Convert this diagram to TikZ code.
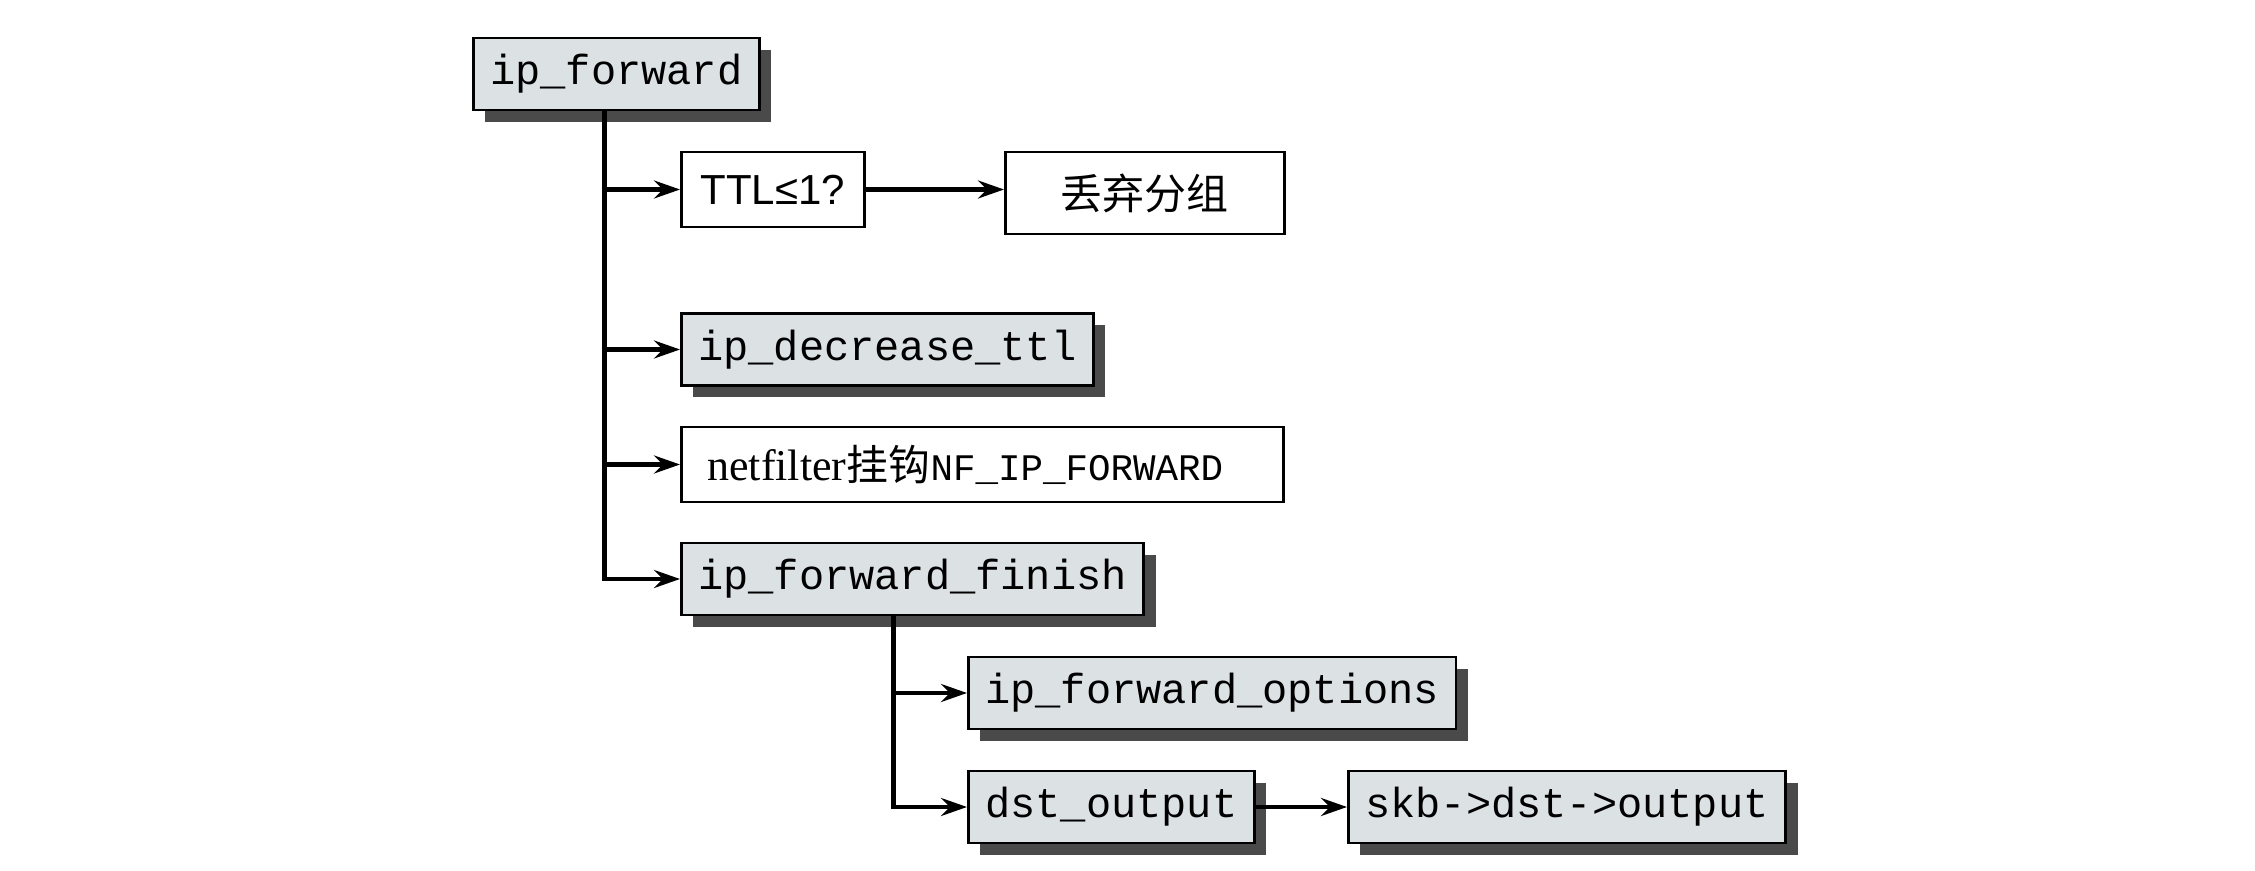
\documentclass[tikz,border=0pt]{standalone}
\usepackage{fontspec}
\setmainfont{Liberation Serif}
\setsansfont{Liberation Sans}
\setmonofont{Liberation Mono}
\newfontfamily\cjk{Noto Sans CJK SC}
\usepackage{xcolor}
\usepackage{tikz}
\usetikzlibrary{positioning,arrows.meta,shadows}
\definecolor{fnGray}{HTML}{DCE1E4}
\definecolor{shadowGray}{HTML}{4A4A4A}

\tikzset{
  fnbox/.style={draw, line width=1.3pt, fill=fnGray, anchor=west, minimum height=36pt,
    inner xsep=8.5pt, font=\ttfamily\fontsize{21}{25}\selectfont,
    drop shadow={shadow xshift=6pt, shadow yshift=-6pt, fill=shadowGray, opacity=1}},
  plainbox/.style={draw, line width=1.3pt, fill=white, anchor=west, minimum height=37.5pt},
  flow/.style={line width=2.2pt, -{Stealth[length=13pt, width=9pt, inset=4.5pt]}}
}

\begin{document}
\begin{tikzpicture}[x=0.5pt, y=-0.5pt]
  \useasboundingbox (0,0) rectangle (2255,871);

  \node[fnbox] (fwd) at (472,74) {ip\_forward};
  \node[plainbox, minimum width=91.5pt, font=\sffamily\fontsize{21}{25}\selectfont] (ttl) at (680,189.5) {TTL≤1?};
  \node[plainbox, minimum width=139.5pt, minimum height=41pt, font=\cjk\fontsize{21}{25}\selectfont] (drop) at (1004,193) {丢弃分组};
  \node[fnbox] (dec) at (680,349.5) {ip\_decrease\_ttl};
  \node[plainbox, inner xsep=13pt, text width=275pt, align=left, font=\fontsize{22}{25}\selectfont] (nf) at (680,464.5)
    {netfilter{\cjk\fontsize{21}{25}\selectfont 挂钩}{\ttfamily\fontsize{18.75}{25}\selectfont NF\_IP\_FORWARD}};
  \node[fnbox] (fin) at (680,579) {ip\_forward\_finish};
  \node[fnbox] (opt) at (967,693) {ip\_forward\_options};
  \node[fnbox] (dst) at (967,807) {dst\_output};
  \node[fnbox] (skb) at (1347,807) {skb->dst->output};

  % ip_forward calls
  \coordinate (trunk) at ([xshift=-6pt]fwd.south);
  \draw[flow] (trunk) |- (fin.west);
  \foreach \n in {ttl,dec,nf}
    \draw[flow] (trunk |- \n.west) -- (\n.west);
  \draw[flow] (ttl.east) -- (ttl.east -| drop.west);

  % ip_forward_finish calls
  \coordinate (trunkfin) at ([xshift=-9.5pt]fin.south);
  \draw[flow] (trunkfin) |- (dst.west);
  \draw[flow] (trunkfin |- opt.west) -- (opt.west);
  \draw[flow] (dst.east) -- (skb.west);
\end{tikzpicture}
\end{document}
